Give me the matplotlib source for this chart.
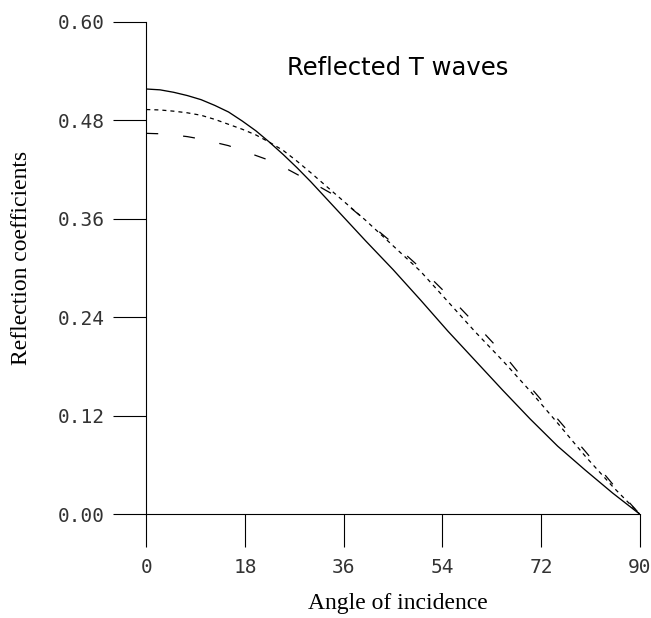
import numpy as np
import matplotlib.pyplot as plt

# angle of incidence (degrees)
angle = [0, 2.5, 5, 7.5, 10, 12.5, 15, 17.5, 20, 22.5, 25, 27.5, 30,
         35, 40, 45, 50, 55, 60, 65, 70, 75, 80, 85, 90]

# reflection coefficients for the three models
solid = [0.518, 0.517, 0.514, 0.510, 0.505, 0.498, 0.490, 0.479, 0.467, 0.453,
         0.438, 0.422, 0.405, 0.369, 0.333, 0.298, 0.261, 0.223, 0.187, 0.151,
         0.116, 0.083, 0.054, 0.026, 0.000]
dotted = [0.493, 0.4925, 0.491, 0.489, 0.486, 0.481, 0.475, 0.469, 0.462, 0.453,
          0.443, 0.430, 0.416, 0.387, 0.358, 0.327, 0.296, 0.259, 0.222, 0.187,
          0.150, 0.111, 0.071, 0.034, 0.000]
dashed = [0.464, 0.4635, 0.462, 0.460, 0.457, 0.453, 0.449, 0.443, 0.437, 0.431,
          0.423, 0.414, 0.405, 0.386, 0.358, 0.330, 0.300, 0.267, 0.232, 0.196,
          0.155, 0.116, 0.077, 0.037, 0.000]

xticks = [0, 18, 36, 54, 72, 90]
yticks = [0.00, 0.12, 0.24, 0.36, 0.48, 0.60]

plt.rcParams['lines.scale_dashes'] = False

fig = plt.figure(figsize=(6.51, 6.18), dpi=100)
ax = fig.add_axes([0.2247, 0.1678, 0.7583, 0.7971])

ax.plot(angle, solid, color='black', lw=0.95)
ax.plot(angle, dotted, color='black', lw=0.9, dashes=(2.9, 2.9))
ax.plot(angle, dashed, color='black', lw=0.9, dashes=(8.6, 18.0))

ax.set_xlim(0, 90)
ax.set_ylim(0, 0.60)
for s in ['top', 'right']:
    ax.spines[s].set_visible(False)
for s in ['left', 'bottom']:
    ax.spines[s].set_linewidth(0.8)

ax.set_xticks(xticks)
ax.set_yticks(yticks)
ax.set_xticklabels([str(t) for t in xticks])
ax.set_yticklabels(['%.2f' % t for t in yticks])
ax.tick_params(direction='out', length=23.8, width=0.8, color='black')
ax.tick_params(axis='x', pad=8)
ax.tick_params(axis='y', pad=6)
for lab in ax.get_xticklabels() + ax.get_yticklabels():
    lab.set_family('DejaVu Sans Mono')
    lab.set_fontsize(14)
    lab.set_color('#333333')

ax.set_xlabel('Angle of incidence', family='Liberation Serif', fontsize=17)
ax.set_ylabel('Reflection coefficients', family='Liberation Serif', fontsize=17)
ax.xaxis.set_label_coords(0.51, -0.160)
ax.yaxis.set_label_coords(-0.232, 0.52)

ax.text(0.51, 0.906, 'Reflected T waves', transform=ax.transAxes,
        ha='center', va='center', fontsize=17.5, family='DejaVu Sans')

fig.savefig('out.png', dpi=100)
